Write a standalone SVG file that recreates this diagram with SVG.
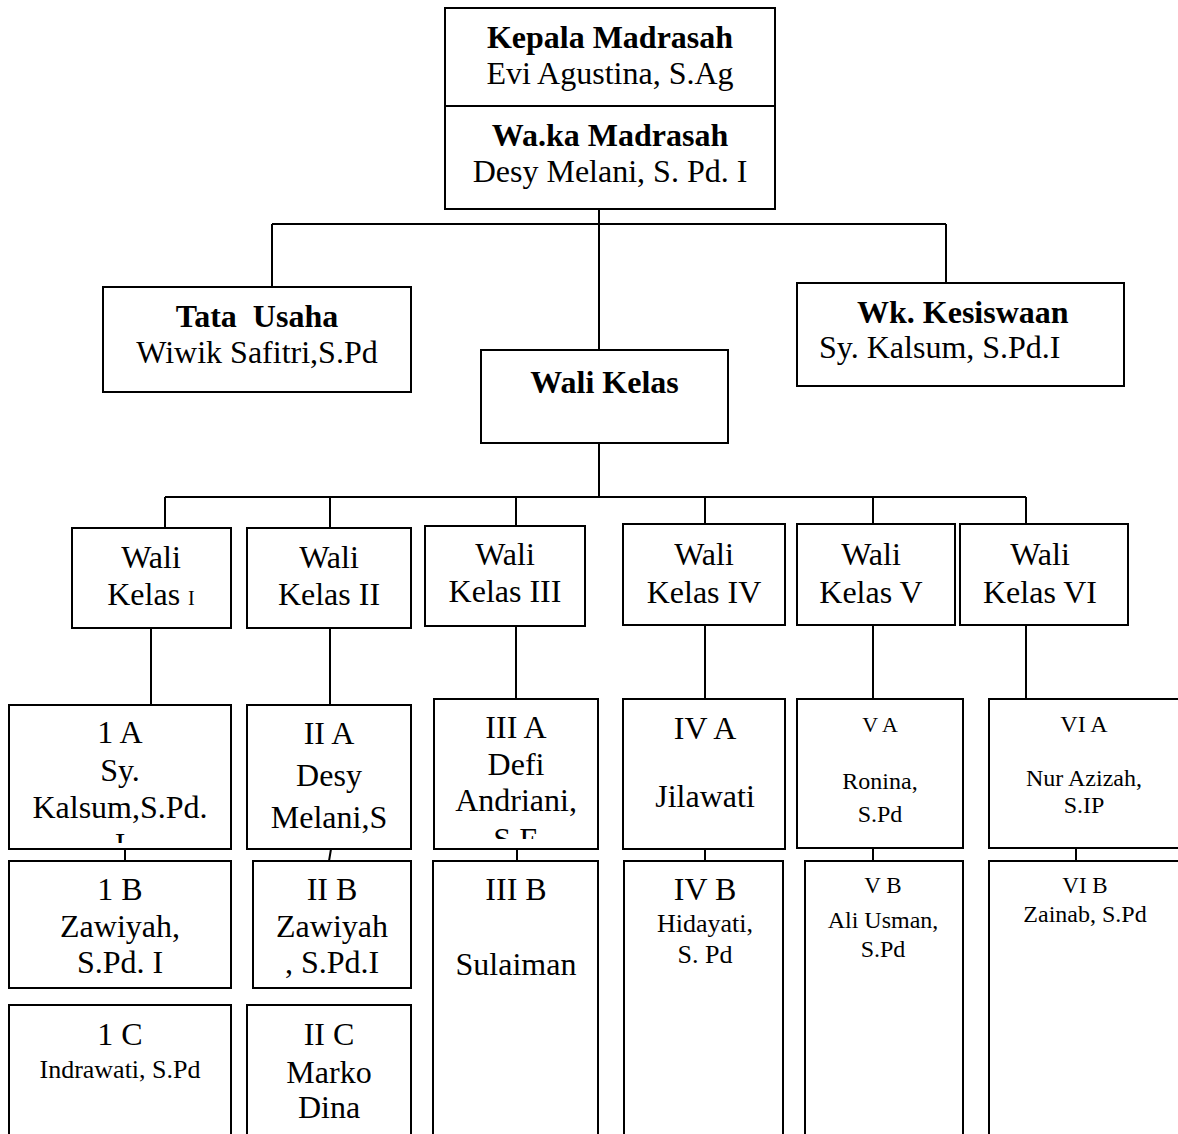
<svg xmlns="http://www.w3.org/2000/svg" width="1178" height="1134" viewBox="0 0 1178 1134">
<style>
.box{fill:#fff;stroke:#000;stroke-width:2}
.ln{fill:none;stroke:#000;stroke-width:2}
text{font-family:"Liberation Serif","Times New Roman",serif;font-size:32px;fill:#000;text-anchor:middle}
.b{font-weight:bold}
.st{text-anchor:start}
.s26{font-size:26px}
.s24{font-size:24px}
.s23{font-size:23px}
.s22{font-size:22px}
</style>
<defs>
<clipPath id="c1a"><rect x="9" y="705" width="222" height="138"/></clipPath>
<clipPath id="c3a"><rect x="434" y="699" width="164" height="140"/></clipPath>
</defs>
<rect x="0" y="0" width="1178" height="1134" fill="#fff"/>
<g id="connectors">
<path class="ln" d="M599 209V350M272 224H946M272 224V287M946 224V283M599 443V497M165 497H1026M165 497V528M330 497V528M516 497V526M705 497V524M873 497V524M1026 497V524"/>
<path class="ln" d="M151 628V705M330 628V705M516 626V699M705 625V699M873 625V699M1026 625V699"/>
<path class="ln" d="M125 849V861M331 849L329 861M517 849V861M705 849V861M873 848V861M1076 848V861"/>
</g>
<g id="kepala">
<rect class="box" x="445" y="8" width="330" height="201"/>
<line class="ln" x1="445" y1="106" x2="775" y2="106"/>
<text class="b" x="610" y="48">Kepala Madrasah</text>
<text x="610" y="84">Evi Agustina, S.Ag</text>
</g>
<g id="waka">
<text class="b" x="610" y="146">Wa.ka Madrasah</text>
<text x="610" y="182">Desy Melani, S. Pd. I</text>
</g>
<g id="tata-usaha">
<rect class="box" x="103" y="287" width="308" height="105"/>
<text class="b" x="257" y="327" xml:space="preserve">Tata  Usaha</text>
<text x="257" y="363">Wiwik Safitri,S.Pd</text>
</g>
<g id="kesiswaan">
<rect class="box" x="797" y="283" width="327" height="103"/>
<text class="b st" x="857" y="323">Wk. Kesiswaan</text>
<text class="st" x="819" y="358">Sy. Kalsum, S.Pd.I</text>
</g>
<g id="wali-kelas">
<rect class="box" x="481" y="350" width="247" height="93"/>
<text class="b" x="604.5" y="393">Wali Kelas</text>
</g>
<g id="wk1">
<rect class="box" x="72" y="528" width="159" height="100"/>
<text x="151" y="568">Wali</text>
<text x="151" y="605">Kelas <tspan font-size="20">I</tspan></text>
</g>
<g id="wk2">
<rect class="box" x="247" y="528" width="164" height="100"/>
<text x="329" y="568">Wali</text>
<text x="329" y="605">Kelas II</text>
</g>
<g id="wk3">
<rect class="box" x="425" y="526" width="160" height="100"/>
<text x="505" y="565">Wali</text>
<text x="505" y="602">Kelas III</text>
</g>
<g id="wk4">
<rect class="box" x="623" y="524" width="162" height="101"/>
<text x="704" y="565">Wali</text>
<text x="704" y="603">Kelas IV</text>
</g>
<g id="wk5">
<rect class="box" x="797" y="524" width="158" height="101"/>
<text x="871" y="565">Wali</text>
<text x="871" y="603">Kelas V</text>
</g>
<g id="wk6">
<rect class="box" x="960" y="524" width="168" height="101"/>
<text x="1040" y="565">Wali</text>
<text x="1040" y="603">Kelas VI</text>
</g>
<g id="k1a">
<rect class="box" x="9" y="705" width="222" height="144"/>
<g clip-path="url(#c1a)">
<text x="120" y="743">1 A</text>
<text x="120" y="781">Sy.</text>
<text x="120" y="818">Kalsum,S.Pd.</text>
<text x="120" y="855">I</text>
</g>
</g>
<g id="k2a">
<rect class="box" x="247" y="705" width="164" height="144"/>
<text x="329" y="744">II A</text>
<text x="329" y="786">Desy</text>
<text x="329" y="828">Melani,S</text>
</g>
<g id="k3a">
<rect class="box" x="434" y="699" width="164" height="150"/>
<g clip-path="url(#c3a)">
<text x="516" y="738">III A</text>
<text x="516" y="775">Defi</text>
<text x="516" y="811">Andriani,</text>
<text x="516" y="850">S.E</text>
</g>
</g>
<g id="k4a">
<rect class="box" x="623" y="699" width="162" height="150"/>
<text x="705" y="739">IV A</text>
<text x="705" y="807">Jilawati</text>
</g>
<g id="k5a">
<rect class="box" x="797" y="699" width="166" height="149"/>
<text class="s22" x="880" y="732">V A</text>
<text class="s24" x="880" y="789">Ronina,</text>
<text class="s24" x="880" y="822">S.Pd</text>
</g>
<g id="k6a">
<rect class="box" x="989" y="699" width="200" height="149"/>
<text class="s24" x="1084" y="732">VI A</text>
<text class="s24" x="1084" y="786">Nur Azizah,</text>
<text class="s24" x="1084" y="813">S.IP</text>
</g>
<g id="k1b">
<rect class="box" x="9" y="861" width="222" height="127"/>
<text x="120" y="900">1 B</text>
<text x="120" y="937">Zawiyah,</text>
<text x="120" y="973">S.Pd. I</text>
</g>
<g id="k2b">
<rect class="box" x="253" y="861" width="158" height="127"/>
<text x="332" y="900">II B</text>
<text x="332" y="937">Zawiyah</text>
<text x="332" y="973">, S.Pd.I</text>
</g>
<g id="k3b">
<rect class="box" x="433" y="861" width="165" height="290"/>
<text x="516" y="900">III B</text>
<text x="516" y="975">Sulaiman</text>
</g>
<g id="k4b">
<rect class="box" x="624" y="861" width="159" height="290"/>
<text x="705" y="900">IV B</text>
<text class="s26" x="705" y="932">Hidayati,</text>
<text class="s26" x="705" y="963">S. Pd</text>
</g>
<g id="k5b">
<rect class="box" x="805" y="861" width="158" height="290"/>
<text class="s23" x="883" y="893">V B</text>
<text class="s24" x="883" y="928">Ali Usman,</text>
<text class="s24" x="883" y="957">S.Pd</text>
</g>
<g id="k6b">
<rect class="box" x="989" y="861" width="200" height="290"/>
<text class="s23" x="1085" y="893">VI B</text>
<text class="s24" x="1085" y="922">Zainab, S.Pd</text>
</g>
<g id="k1c">
<rect class="box" x="9" y="1005" width="222" height="145"/>
<text x="120" y="1045">1 C</text>
<text class="s26" x="120" y="1078">Indrawati, S.Pd</text>
</g>
<g id="k2c">
<rect class="box" x="247" y="1005" width="164" height="145"/>
<text x="329" y="1045">II C</text>
<text x="329" y="1083">Marko</text>
<text x="329" y="1118">Dina</text>
</g>
</svg>
